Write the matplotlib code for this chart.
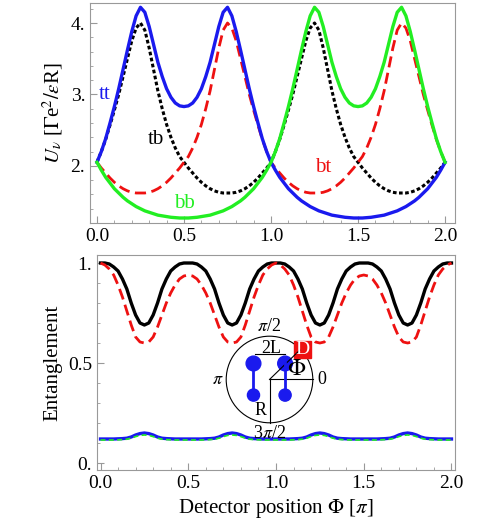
import numpy as np
import matplotlib
matplotlib.use("Agg")
import matplotlib.pyplot as plt
from matplotlib.patches import Circle, Rectangle

plt.rcParams['font.family'] = ['Liberation Serif', 'DejaVu Serif']
plt.rcParams['mathtext.fontset'] = 'stix'

# ---- data, grid step 0.025 ----
phi_half = np.round(np.arange(0, 0.5001, 0.025), 3)
tt_half = [2.05, 2.2, 2.38, 2.6, 2.83, 3.08, 3.35, 3.62, 3.88, 4.1, 4.22, 4.15, 3.95, 3.7, 3.45, 3.25, 3.08, 2.96, 2.88, 2.84, 2.83]
bb_half = [2.05, 1.94, 1.84, 1.76, 1.68, 1.62, 1.56, 1.51, 1.47, 1.43, 1.4, 1.37, 1.35, 1.33, 1.31, 1.3, 1.29, 1.28, 1.275, 1.27, 1.27]
tb_period = [2.05, 2.2, 2.37, 2.57, 2.78, 3.0, 3.25, 3.5, 3.75, 3.93, 4.0, 3.9, 3.65, 3.35, 3.05, 2.8, 2.58, 2.4, 2.25, 2.13, 2.05,
             1.97, 1.9, 1.83, 1.77, 1.72, 1.68, 1.65, 1.63, 1.62, 1.62,
             1.62, 1.63, 1.65, 1.68, 1.72, 1.77, 1.83, 1.9, 1.97, 2.05]
ent_black_q = [1.0, 1.0, 0.995, 0.98, 0.96, 0.92, 0.87, 0.8, 0.74, 0.70, 0.69]
ent_red_half = [1.0, 0.99, 0.97, 0.94, 0.89, 0.83, 0.76, 0.69, 0.63, 0.605, 0.6,
                0.605, 0.63, 0.68, 0.74, 0.8, 0.85, 0.89, 0.92, 0.935, 0.94]
ent_blue_q = [0.12, 0.12, 0.12, 0.12, 0.121, 0.122, 0.124, 0.13, 0.14, 0.147, 0.15]
ent_green_q = [0.115, 0.115, 0.115, 0.115, 0.116, 0.117, 0.119, 0.124, 0.132, 0.138, 0.14]

phi = np.round(np.arange(0, 2.0001, 0.025), 3)

def sym_period(half):  # half over [0,0.5] -> full period [0,1]
    return list(half) + list(half[-2::-1])

tt_p = sym_period(tt_half)
bb_p = sym_period(bb_half)
tt = np.array(tt_p + bb_p[1:])
bb = np.array(bb_p + tt_p[1:])
tb = np.array(tb_period + tb_period[1:])
bt = np.array(list(tb_period[::-1]) + list(tb_period[::-1])[1:])

def quarter_to_full(q):
    p = sym_period(sym_period(q)[:21])
    return np.array(p + p[1:])
black = quarter_to_full(ent_black_q)
blue = quarter_to_full(ent_blue_q)
green = quarter_to_full(ent_green_q)
red_p = sym_period(ent_red_half)
red = np.array(red_p + red_p[1:])

fig = plt.figure(figsize=(4.98, 5.30), dpi=100)
W, H = 498, 530
ax1 = fig.add_axes([90/W, 1-223/H, 365/W, 220/H])
ax2 = fig.add_axes([97/W, 1-470/H, 358/W, 215/H])

GREEN = '#22ee22'
ax1.plot(phi, tb, color='black', lw=2.2, ls=(0, (1.2, 0.8)))
ax1.plot(phi, bt, color='#ee1111', lw=2, ls=(0, (4, 2)))
ax1.plot(phi, tt, color='#1a1aee', lw=2.4)
ax1.plot(phi, bb, color=GREEN, lw=2.4)
ax1.set_xlim(-0.04, 2.057)
ax1.set_ylim(1.2, 4.28)
ax1.set_yticks([2, 3, 4])
ax1.set_yticklabels(['2.', '3.', '4.'])
ax1.set_xticks([0, 0.5, 1, 1.5, 2])
ax1.set_xticklabels(['0.0', '0.5', '1.0', '1.5', '2.0'])
ax1.set_ylabel(r'$U_\nu$ [$\Gamma$e$^2/\varepsilon$R]', fontsize=15)
for t, x, y, c in [('tt', 0.045, 3.0, '#1a1aee'), ('tb', 0.34, 2.37, 'black'),
                   ('bt', 1.3, 1.97, '#ee1111'), ('bb', 0.5, 1.48, GREEN)]:
    ax1.text(x, y, t, color=c, fontsize=15, ha='center', va='center')

ax2.plot(phi, black, color='black', lw=2.4)
ax2.plot(phi, red, color='#ee1111', lw=2, ls=(0, (4, 2)))
ax2.plot(phi, blue, color='#1a1aee', lw=2.4)
ax2.plot(phi, green, color=GREEN, lw=1.2, ls=(0, (3, 2)))
ax2.set_xlim(-0.02, 2.02)
ax2.set_ylim(-0.035, 1.04)
ax2.set_yticks([0, 0.5, 1])
ax2.set_yticklabels(['0.', '0.5', '1.'])
ax2.set_xticks([0, 0.5, 1, 1.5, 2])
ax2.set_xticklabels(['0.0', '0.5', '1.0', '1.5', '2.0'])
ax2.set_ylabel('Entanglement', fontsize=15)
ax2.set_xlabel(r'Detector position $\Phi$ [$\pi$]', fontsize=15)

for ax in (ax1, ax2):
    for s in ax.spines.values():
        s.set_color('#999999')
    ax.minorticks_on()
    ax.tick_params(which='both', direction='in', color='#999999', labelsize=14, top=False, right=False)
    ax.tick_params(which='major', length=5)
    ax.tick_params(which='minor', length=2.5)

# inset diagram
R = 43.3
cx, cy = 269.5, 379.5
ext = 1.45
axi = fig.add_axes([(cx-ext*R)/W, 1-(cy+ext*R)/H, 2*ext*R/W, 2*ext*R/H])
axi.set_xlim(-ext, ext); axi.set_ylim(-ext, ext); axi.set_aspect('equal'); axi.axis('off')
axi.add_patch(Circle((0, 0), 1, fill=False, lw=0.8, color='black'))
axi.plot([0, 1], [0, 0], color='black', lw=0.8)
axi.plot([0, 0], [0, -1], color='black', lw=0.8)
axi.plot([0, 0.7], [0, 0.68], color='black', lw=0.8)
axi.plot([-0.33, 0.36], [0.58, 0.58], color='black', lw=0.8)
for x in (-0.37, 0.36):
    axi.plot([x, x], [0.37, -0.36], color='#1a1aee', lw=2)
    axi.add_patch(Circle((x, 0.37), 0.17, color='#1a1aee'))
    axi.add_patch(Circle((x, -0.36), 0.14, color='#1a1aee'))
axi.add_patch(Rectangle((0.56, 0.5), 0.4, 0.4, color='#ee1111'))
axi.text(0.76, 0.7, 'D', color='white', fontsize=14, ha='center', va='center')
kw = dict(fontsize=13, ha='center', va='center')
axi.text(0, 1.22, r'$\pi$/2', **kw)
axi.text(0, -1.24, r'3$\pi$/2', **kw)
axi.text(-1.2, 0, r'$\pi$', **kw)
axi.text(1.2, 0, '0', **kw)
axi.text(-0.2, -0.72, 'R', **kw)
axi.text(0.03, 0.72, '2L', **kw)
axi.text(0.62, 0.22, r'$\Phi$', fontsize=17, ha='center', va='center')

fig.savefig('out.png', dpi=100)
